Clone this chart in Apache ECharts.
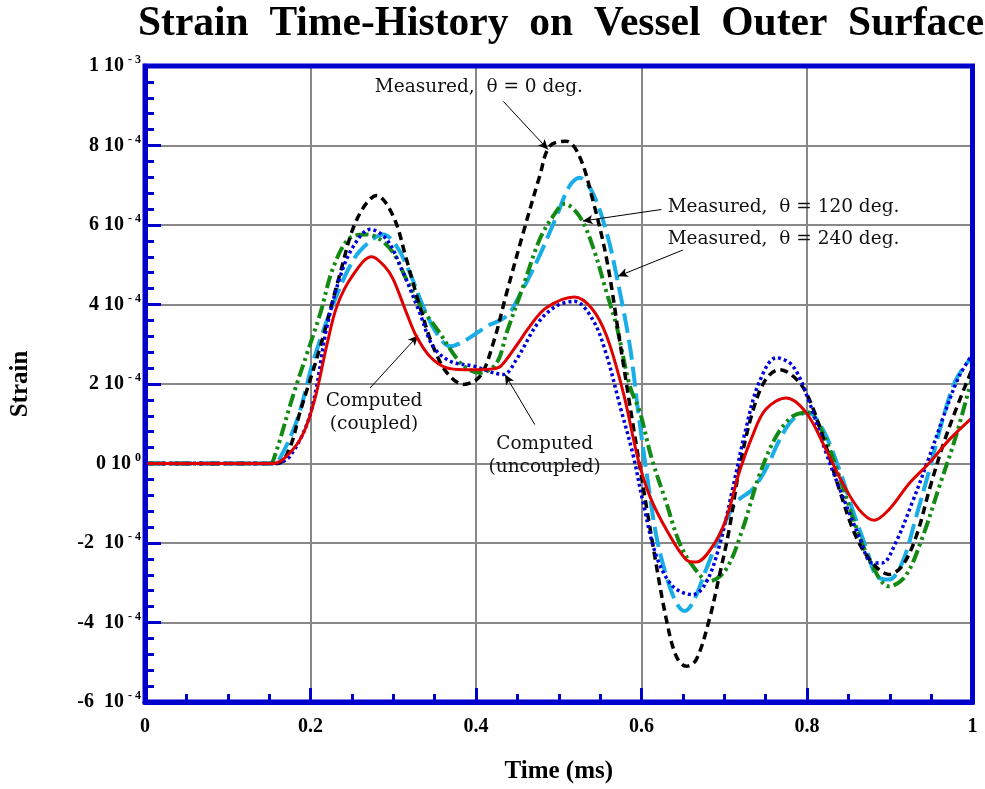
<!DOCTYPE html>
<html><head><meta charset="utf-8">
<script src="https://cdn.jsdelivr.net/npm/echarts@6/dist/echarts.min.js"></script>
<style>html,body{margin:0;padding:0;background:#fff}#c{width:985px;height:789px}</style>
</head><body><div id="c"></div>
<script>
// ---- data (time in ms, strain in units of 1e-4) ----
const coupledT = [0,0.10,0.155,0.171,0.19,0.205,0.22,0.232,0.25,0.274,0.29,0.30,0.316,0.328,0.344,0.364,0.385,0.405,0.42,0.43,0.45,0.465,0.485,0.519,0.54,0.558,0.578,0.596,0.61,0.63,0.654,0.666,0.686,0.702,0.718,0.734,0.75,0.775,0.799,0.823,0.843,0.863,0.881,0.899,0.924,0.948,0.972,1.0];
const coupledV = [0,0,0,0.18,0.7,1.6,3.0,3.96,4.7,5.2,4.95,4.63,3.79,3.2,2.7,2.41,2.36,2.36,2.38,2.45,3.0,3.45,3.92,4.19,3.9,3.2,1.78,0.1,-0.82,-1.66,-2.42,-2.48,-2.08,-1.41,-0.23,0.69,1.36,1.65,1.28,0.35,-0.49,-1.16,-1.43,-1.16,-0.49,0.02,0.6,1.16];

const uncoupledT = [0,0.10,0.155,0.175,0.2,0.22,0.236,0.252,0.272,0.292,0.312,0.332,0.348,0.369,0.397,0.433,0.449,0.475,0.497,0.519,0.541,0.557,0.574,0.59,0.602,0.618,0.638,0.662,0.678,0.694,0.71,0.726,0.742,0.763,0.783,0.803,0.823,0.843,0.863,0.879,0.891,0.907,0.927,0.948,0.968,0.984,1.0];
const uncoupledV = [0,0,0,0.18,1.27,3.45,4.71,5.47,5.89,5.64,4.8,3.79,2.95,2.57,2.45,2.24,2.62,3.54,3.96,4.08,3.62,2.78,1.45,0.2,-0.99,-2.33,-3.09,-3.3,-3.0,-2.08,-0.65,0.86,2.03,2.66,2.45,1.53,0.27,-0.82,-1.83,-2.5,-2.5,-2.0,-0.99,0.18,1.36,2.2,2.75];

const deg0T = [0,0.10,0.16,0.175,0.187,0.212,0.236,0.256,0.28,0.3,0.316,0.332,0.348,0.365,0.385,0.405,0.421,0.437,0.457,0.477,0.489,0.509,0.525,0.541,0.558,0.574,0.59,0.614,0.63,0.642,0.654,0.666,0.682,0.694,0.706,0.718,0.734,0.75,0.767,0.783,0.799,0.819,0.839,0.859,0.879,0.899,0.915,0.932,0.948,0.964,0.98,1.0];
const deg0V = [0,0,0,0.4,1.27,2.95,4.8,6.14,6.74,6.22,5.13,3.96,2.95,2.28,1.99,2.2,3.04,4.29,5.8,7.23,7.98,8.11,7.73,6.64,5.13,3.04,0.94,-2.08,-3.92,-4.85,-5.1,-4.94,-3.92,-2.83,-1.66,-0.15,1.28,2.11,2.36,2.2,1.78,0.69,-0.65,-1.83,-2.5,-2.79,-2.58,-1.83,-0.65,0.44,1.36,2.4];

const deg120T = [0,0.10,0.15,0.155,0.18,0.196,0.212,0.228,0.248,0.268,0.284,0.3,0.316,0.336,0.356,0.372,0.385,0.405,0.425,0.437,0.457,0.477,0.493,0.507,0.525,0.541,0.558,0.57,0.586,0.598,0.612,0.63,0.646,0.662,0.682,0.702,0.722,0.742,0.763,0.783,0.801,0.819,0.839,0.859,0.879,0.899,0.919,0.94,0.96,0.98,1.0];
const deg120V = [0,0,0,0.08,1.78,2.78,3.79,4.96,5.68,5.76,5.64,5.3,4.63,3.87,3.29,2.78,2.45,2.28,2.53,3.29,4.46,5.64,6.22,6.53,6.22,5.47,4.29,3.45,1.94,1.3,0.15,-0.99,-2.0,-2.58,-2.96,-2.67,-1.66,-0.32,0.69,1.19,1.28,0.77,-0.32,-1.58,-2.58,-3.09,-2.83,-1.83,-0.57,0.69,2.2];

const deg240T = [0,0.10,0.155,0.163,0.184,0.204,0.228,0.252,0.272,0.288,0.304,0.32,0.336,0.352,0.369,0.389,0.413,0.437,0.452,0.475,0.497,0.513,0.525,0.541,0.558,0.57,0.586,0.596,0.608,0.618,0.63,0.642,0.652,0.662,0.678,0.694,0.714,0.734,0.75,0.767,0.783,0.801,0.819,0.839,0.855,0.872,0.884,0.899,0.915,0.932,0.948,0.964,0.98,1.0];
const deg240V = [0,0,0,0.13,1.11,2.62,4.04,5.13,5.59,5.76,5.47,4.8,3.96,3.29,2.95,3.12,3.45,3.71,4.2,5.15,6.2,6.98,7.19,6.81,5.8,4.71,2.95,1.3,-0.5,-1.83,-2.83,-3.5,-3.71,-3.5,-2.67,-1.83,-0.99,-0.65,-0.15,0.6,1.11,1.28,0.86,-0.15,-1.16,-2.16,-2.83,-2.92,-2.5,-1.33,-0.15,1.11,2.11,2.7];

// tick labels
const xTickLabels = {0:'0',0.2:'0.2',0.4:'0.4',0.6:'0.6',0.8:'0.8',1:'1'};
const yTickValues = [-6,-4,-2,0,2,4,6,8,10];
const yTickMantissa = ['-6 ','-4 ','-2 ','0','2','4','6','8','1'];
const yTickExp = ['- 4','- 4','- 4','0','- 4','- 4','- 4','- 4','- 3'];

// annotations [text, t, v, align]
const annoTexts = ['Measured,  \u03b8 = 0 deg.','Measured,  \u03b8 = 120 deg.','Measured,  \u03b8 = 240 deg.','Computed\n(coupled)','Computed\n(uncoupled)'];
const annoPos = [[0.4035,9.46],[0.6316,6.44],[0.6316,5.64],[0.2768,1.28],[0.483,0.2]];
const annoAlign = ['center','left','left','center','center'];
// arrows [[t0,v0],[t1,v1]]
const arrows = [
  [[0.433,9.11],[0.487,7.9]],
  [[0.624,6.39],[0.529,6.1]],
  [[0.650,5.37],[0.5715,4.71]],
  [[0.272,1.9],[0.330,3.22]],
  [[0.471,0.98],[0.435,2.24]]
];

const zip = (t,v)=>t.map((x,i)=>[x,v[i]]);
const BLUE = '#0000CC';
const serif = 'Liberation Serif';

const chart = echarts.init(document.getElementById('c'), null, {renderer:'canvas'});
const mk = (name,t,v,color,width,type,z)=>({
  name, type:'line', data: zip(t,v), smooth:0.35, showSymbol:false, symbol:'none', z,
  lineStyle:{color, width, type, cap:'butt'}, animation:false
});
chart.setOption({
  animation:false,
  backgroundColor:'#fff',
  title:{text:'Strain  Time-History  on  Vessel  Outer  Surface', left:133, top:-2,
    textStyle:{fontFamily:serif, fontWeight:'bold', fontSize:41.5, color:'#000'}},
  grid:{left:145, right:12.5, top:66, bottom:86, show:true, borderColor:BLUE, borderWidth:5, backgroundColor:'transparent', z:10},
  xAxis:{type:'value', min:0, max:1, interval:0.2,
    name:'Time (ms)', nameLocation:'middle', nameGap:57,
    nameTextStyle:{fontFamily:serif, fontWeight:'bold', fontSize:25, color:'#000'},
    axisLine:{onZero:false, lineStyle:{color:BLUE, width:5}},
    axisTick:{inside:true, length:14, lineStyle:{color:BLUE, width:3}},
    minorTick:{show:true, splitNumber:4, length:8, lineStyle:{color:BLUE, width:3}},
    splitLine:{show:true, lineStyle:{color:'#888', width:2}},
    axisLabel:{margin:15, fontFamily:serif, fontWeight:'bold', fontSize:20, color:'#000',
      formatter:v=>xTickLabels[Math.round(v*10)/10]}
  },
  yAxis:{type:'value', min:-6, max:10, interval:2,
    name:'Strain', nameLocation:'middle', nameGap:112, nameRotate:90,
    nameTextStyle:{fontFamily:serif, fontWeight:'bold', fontSize:25, color:'#000'},
    axisLine:{onZero:false, lineStyle:{color:BLUE, width:5}},
    axisTick:{inside:true, length:16, lineStyle:{color:BLUE, width:3}},
    minorTick:{show:true, splitNumber:5, length:9, lineStyle:{color:BLUE, width:3}},
    splitLine:{show:true, lineStyle:{color:'#888', width:2}},
    axisLabel:{margin:4, formatter:v=>{const i=yTickValues.indexOf(Math.round(v)); if(i<0) return '';
        return '{m|'+yTickMantissa[i]+' 10}{e|'+yTickExp[i]+'}';},
      rich:{m:{fontFamily:serif, fontWeight:'bold', fontSize:20, color:'#000'},
            e:{fontFamily:serif, fontWeight:'bold', fontSize:12, color:'#000', padding:[0,0,12,4]}}}
  },
  series:[
    mk('Measured 240', deg240T, deg240V, '#19AEE8', 4, [20,7], 3),
    mk('Measured 120', deg120T, deg120V, '#138A13', 4, [13,4,3,4,3,4], 4),
    mk('Measured 0', deg0T, deg0V, '#000000', 3.5, [8,5], 5),
    mk('Computed uncoupled', uncoupledT, uncoupledV, '#0000DD', 3.5, [3,3], 6),
    mk('Computed coupled', coupledT, coupledV, '#E00000', 3, 'solid', 7),
    {type:'line', data:[], z:8, silent:true,
      markLine:{silent:true, symbol:['none','arrow'], symbolSize:[7,10], animation:false,
        label:{show:false}, lineStyle:{color:'#000', width:1, type:'solid'},
        data: arrows.map(a=>[{coord:a[0]},{coord:a[1]}])}}
  ]
});
// annotation texts placed through the axes' scales
const g = annoTexts.map((txt,i)=>{
  const p = chart.convertToPixel({gridIndex:0}, annoPos[i]);
  return {type:'text', x:p[0], y:p[1], z:20,
    style:{text:txt, fontFamily:'DejaVu Serif', fontSize:18.5, fill:'#111', align:annoAlign[i], verticalAlign:'middle', lineHeight:23}};
});
chart.setOption({graphic:g});
</script></body></html>
